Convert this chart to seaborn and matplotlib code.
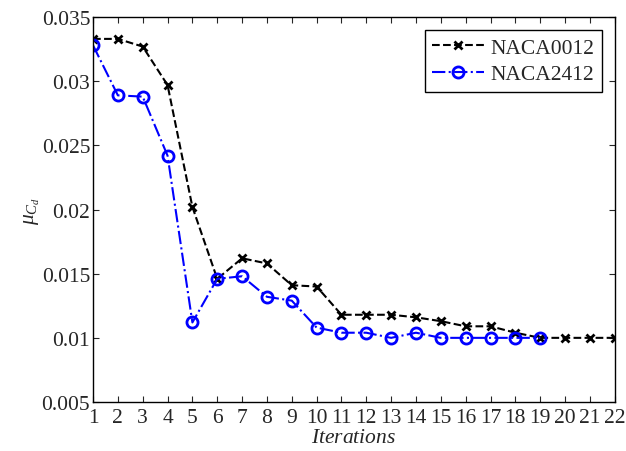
import matplotlib
matplotlib.use("Agg")
import matplotlib.pyplot as plt
import pandas as pd
import seaborn as sns

# Data
iters_0012 = list(range(1, 23))
naca0012 = [0.0333, 0.0333, 0.0327, 0.0297, 0.0202, 0.0146, 0.0162, 0.0158,
            0.0141, 0.0140, 0.0118, 0.0118, 0.0118, 0.0116, 0.0113, 0.0109,
            0.0109, 0.0104, 0.0100, 0.0100, 0.0100, 0.0100]
iters_2412 = list(range(1, 20))
naca2412 = [0.0328, 0.0289, 0.0288, 0.0242, 0.0112, 0.0146, 0.0148, 0.0132,
            0.0129, 0.0108, 0.0104, 0.0104, 0.0100, 0.0104, 0.0100, 0.0100,
            0.0100, 0.0100, 0.0100]

sns.set_style("ticks")
plt.rcParams['font.family'] = ['Liberation Serif', 'DejaVu Serif']
plt.rcParams['mathtext.fontset'] = 'custom'
plt.rcParams['mathtext.rm'] = 'Liberation Serif'
plt.rcParams['mathtext.it'] = 'Liberation Serif:italic'

df_a = pd.DataFrame({"it": iters_0012, "val": naca0012})
df_b = pd.DataFrame({"it": iters_2412, "val": naca2412})

fig = plt.figure(figsize=(6.26, 4.52), dpi=100)
ax = fig.add_axes([0.1486, 0.1084, 0.8334, 0.8516])

sns.lineplot(data=df_a, x="it", y="val", ax=ax, color="black", linestyle="--",
             marker="x", markersize=6, markeredgecolor="black",
             markeredgewidth=2, linewidth=1.5, label="NACA0012")
sns.lineplot(data=df_b, x="it", y="val", ax=ax, color="#0000ff", linestyle="-.",
             marker="o", markersize=8, markerfacecolor="none",
             markeredgecolor="#0000ff", markeredgewidth=2, linewidth=1.5,
             label="NACA2412")

ax.set_xlim(1, 22)
ax.set_ylim(0.005, 0.035)
ax.set_xticks(range(1, 23))
ax.set_yticks([0.005, 0.01, 0.015, 0.02, 0.025, 0.03, 0.035])
ax.set_yticklabels(["0.005", "0.01", "0.015", "0.02", "0.025", "0.03", "0.035"])
ax.tick_params(direction="in", top=True, right=True, labelsize=15.5,
               length=4, width=0.8, pad=2)
ax.tick_params(axis="x", pad=4)
for s in ax.spines.values():
    s.set_linewidth(1.0)
    s.set_color("black")

ax.set_xlabel("$Iterations$", fontsize=15.5, labelpad=1)
ax.set_ylabel(r"$\mu_{C_d}$", fontsize=15.5, labelpad=0)

leg = ax.legend(loc="upper right", fontsize=15.5, frameon=True, fancybox=False,
                edgecolor="black", framealpha=1, borderpad=0.35,
                handlelength=2.4, handletextpad=0.3, labelspacing=0.3,
                borderaxespad=0.6)
leg.get_frame().set_linewidth(1.0)

fig.savefig("out.png", dpi=100)
